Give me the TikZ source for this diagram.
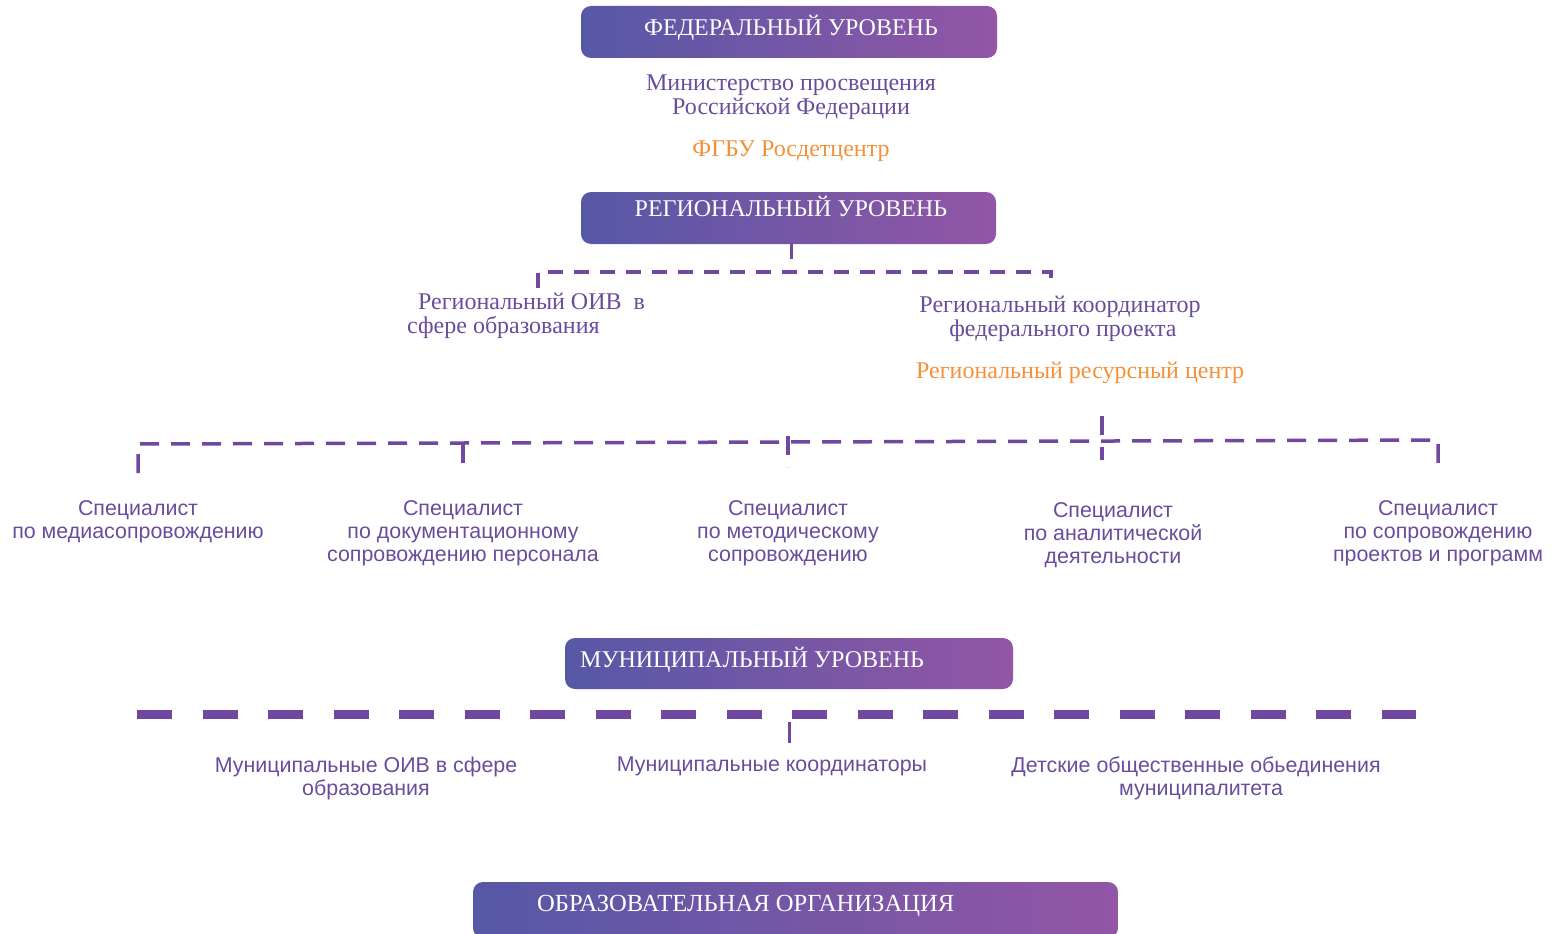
\documentclass[tikz,border=0pt]{standalone}
\usepackage{fontspec}
\setmainfont{Liberation Serif}
\setsansfont{Liberation Sans}
\definecolor{boxleft}{HTML}{5658A6}
\definecolor{boxright}{HTML}{9256A5}
\definecolor{txtpurple}{HTML}{6A4C9C}
\definecolor{linepurple}{HTML}{7048A0}
\definecolor{txtorange}{HTML}{F2913A}
\begin{document}
\begin{tikzpicture}[x=1pt,y=-1pt,
    level_box/.style={rounded corners=10pt,left color=boxleft,right color=boxright,inner sep=0pt},
    level_title/.style={text=white,font=\fontsize{24}{26}\selectfont,inner sep=0pt,anchor=base},
    org_node/.style={text=txtpurple,font=\fontsize{24}{24}\selectfont,align=center,inner sep=0pt,anchor=north},
    spec_node/.style={text=txtpurple,font=\sffamily\fontsize{21.4}{23}\selectfont,align=center,inner sep=0pt,anchor=north},
    reg_dash/.style={draw=linepurple,line width=4pt,dash pattern=on 15pt off 11pt},
    spec_dash/.style={draw=linepurple,line width=3.5pt,dash pattern=on 19pt off 12pt},
    mun_dash/.style={draw=linepurple,line width=9pt,dash pattern=on 35pt off 30.5pt},
    stem/.style={draw=linepurple,line width=3pt}]
    \useasboundingbox (0,0) rectangle (1553,934);

    \node[level_box,minimum width=416pt,minimum height=52pt] (fed_box) at (789,32) {};
    \node[level_title] (fed_title) at (791,36) {ФЕДЕРАЛЬНЫЙ УРОВЕНЬ};
    \node[org_node] (ministry) at (791,75) {Министерство просвещения\\Российской Федерации};
    \node[org_node,text=txtorange] (rosdet) at (791,141) {ФГБУ Росдетцентр};

    \node[level_box,minimum width=415pt,minimum height=52pt] (reg_box) at (788.5,218) {};
    \node[level_title] (reg_title) at (791,216) {РЕГИОНАЛЬНЫЙ УРОВЕНЬ};
    \node[org_node,align=left,anchor=north west] (reg_oiv) at (407,293) {\hspace{11pt}Региональный ОИВ \ в\\сфере образования};
    \node[org_node] (reg_coord) at (1060,296) {Региональный координатор\\\hspace{6pt}федерального проекта};
    \node[org_node,text=txtorange,anchor=north west] (res_center) at (916,362) {Региональный ресурсный центр};

    \coordinate (reg_stem) at (791,259);
    \coordinate (reg_l) at (538,288);
    \coordinate (reg_r) at (1051,288);
    \draw[stem] (reg_stem |- reg_box.south) -- (reg_stem);
    \draw[reg_dash] (reg_l) -- ++(0,-16) -- ++(513,0) -- (reg_r);

    \node[spec_node] (media) at (138,500) {Специалист\\по медиасопровождению};
    \node[spec_node] (docs) at (463,500) {Специалист\\по документационному\\сопровождению персонала};
    \node[spec_node] (method) at (788,500) {Специалист\\по методическому\\сопровождению};
    \node[spec_node] (analyt) at (1113,502) {Специалист\\по аналитической\\деятельности};
    \node[spec_node] (projects) at (1438,500) {Специалист\\по сопровождению\\проектов и программ};

    \coordinate (bus_l) at (138,444);
    \coordinate (bus_r) at (1438,440);
    \coordinate (hub_top) at (1102,416);
    \coordinate (hub_end) at (1102,460);
    \draw[spec_dash] ([yshift=27pt]media.north) -- (bus_l) -- (bus_r) -- ([yshift=29pt]projects.north);
    \draw[spec_dash] (docs.north |- bus_l) -- ([yshift=28pt]docs.north);
    \draw[spec_dash] ([yshift=64pt]method.north) -- ([yshift=33pt]method.north);
    \draw[spec_dash] (hub_top) -- (hub_end);

    \node[level_box,minimum width=448pt,minimum height=51pt] (mun_box) at (789,663.5) {};
    \node[level_title,anchor=base west] (mun_title) at (580,667) {МУНИЦИПАЛЬНЫЙ УРОВЕНЬ};

    \coordinate (mun_l) at (137,714);
    \coordinate (mun_r) at (1416,714);
    \coordinate (mun_stem) at (789,743);
    \draw[mun_dash] (mun_l) -- (mun_r);
    \draw[stem] ([yshift=-8pt]mun_stem |- mun_l) -- (mun_stem);

    \node[spec_node] (mun_oiv) at (366,757) {Муниципальные ОИВ в сфере\\образования};
    \node[spec_node] (mun_coord) at (772,757) {Муниципальные координаторы};
    \node[spec_node] (kids) at (1196,757) {Детские общественные обьединения\\\hspace{10pt}муниципалитета};

    \node[level_box,minimum width=645pt,minimum height=56pt] (edu_box) at (795.5,910) {};
    \node[level_title,anchor=base west,font=\fontsize{24.6}{26}\selectfont] (edu_title) at (537,911) {ОБРАЗОВАТЕЛЬНАЯ ОРГАНИЗАЦИЯ};
\end{tikzpicture}
\end{document}
